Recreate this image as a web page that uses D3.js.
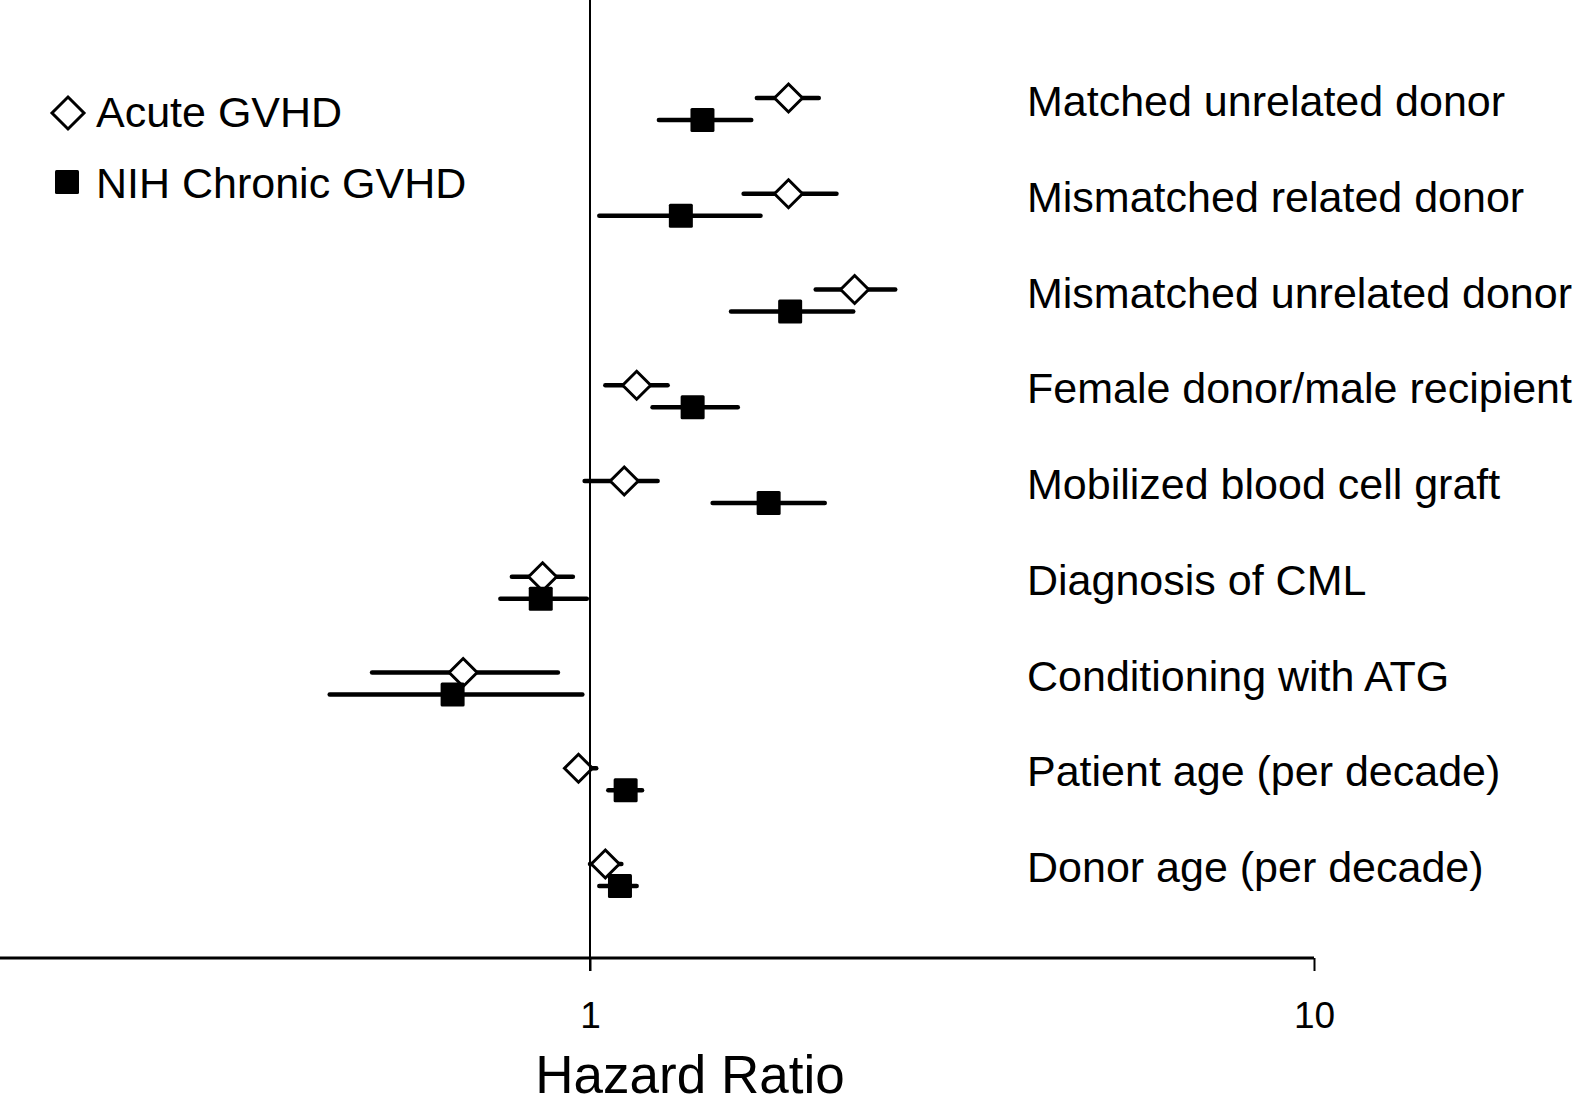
<!DOCTYPE html>
<html lang="en">
<head>
<meta charset="utf-8">
<title>Hazard ratios for acute and chronic GVHD</title>
<script src="https://d3js.org/d3.v7.min.js"></script>
<style>
  body { margin: 0; background: #fff; }
  svg text { font-family: "Liberation Sans", Arial, sans-serif; fill: #000; }
</style>
</head>
<body>
<div id="chart"></div>
<script>
// Data
var categories = ["Matched unrelated donor", "Mismatched related donor", "Mismatched unrelated donor",
  "Female donor/male recipient", "Mobilized blood cell graft", "Diagnosis of CML",
  "Conditioning with ATG", "Patient age (per decade)", "Donor age (per decade)"];
var acuteHR = [1.88, 1.88, 2.32, 1.16, 1.115, 0.86, 0.668, 0.964, 1.05];
var acuteLo = [1.70, 1.63, 2.05, 1.05, 0.983, 0.78, 0.50, 0.94, 1.0];
var acuteHi = [2.07, 2.19, 2.64, 1.28, 1.24, 0.947, 0.903, 1.02, 1.105];
var chronicHR = [1.43, 1.335, 1.89, 1.386, 1.765, 0.855, 0.646, 1.12, 1.10];
var chronicLo = [1.245, 1.03, 1.566, 1.22, 1.477, 0.752, 0.437, 1.06, 1.03];
var chronicHi = [1.67, 1.72, 2.31, 1.60, 2.11, 0.99, 0.976, 1.18, 1.16];
var tickValues = [1, 10];
var seriesNames = ["Acute GVHD", "NIH Chronic GVHD"];

var w = 1574, h = 1106;
var axisY = 958;

var svg = d3.select("#chart").append("svg")
  .attr("width", w).attr("height", h);

var x = d3.scaleLog().domain([1, 10]).range([590, 1314]);
var y = d3.scalePoint().domain(categories).range([98, 864]);
var offset = 22;

var acute = categories.map(function(c, i) { return {cat: c, hr: acuteHR[i], lo: acuteLo[i], hi: acuteHi[i]}; });
var chronic = categories.map(function(c, i) { return {cat: c, hr: chronicHR[i], lo: chronicLo[i], hi: chronicHi[i]}; });

// axis baseline
svg.append("line")
  .attr("x1", 0).attr("x2", x(10))
  .attr("y1", axisY).attr("y2", axisY)
  .attr("stroke", "#000").attr("stroke-width", 3);

var axis = svg.append("g")
  .attr("transform", "translate(0," + axisY + ")")
  .call(d3.axisBottom(x).tickValues(tickValues).tickSize(13).tickSizeOuter(0).tickFormat(d3.format("d")));
axis.select(".domain").remove();
axis.selectAll(".tick line").attr("stroke", "#000").attr("stroke-width", 2);
axis.selectAll(".tick text")
  .attr("y", 70).attr("dy", 0)
  .style("font-size", "37px")
  .style("font-family", "'Liberation Sans', Arial, sans-serif");

svg.append("text")
  .attr("x", 690).attr("y", 1093)
  .attr("text-anchor", "middle")
  .style("font-size", "53px")
  .text("Hazard Ratio");

// acute: CI lines + diamonds
svg.selectAll(".ci-acute").data(acute).enter().append("line")
  .attr("x1", function(d) { return x(d.lo); })
  .attr("x2", function(d) { return x(d.hi); })
  .attr("y1", function(d) { return y(d.cat); })
  .attr("y2", function(d) { return y(d.cat); })
  .attr("stroke", "#000").attr("stroke-width", 4.5).attr("stroke-linecap", "round");

var dia = 14;
svg.selectAll(".pt-acute").data(acute).enter().append("path")
  .attr("d", function(d) {
    var cx = x(d.hr), cy = y(d.cat);
    return "M" + cx + "," + (cy - dia) + "L" + (cx + dia) + "," + cy + "L" + cx + "," + (cy + dia) + "L" + (cx - dia) + "," + cy + "Z";
  })
  .attr("fill", "#fff").attr("stroke", "#000").attr("stroke-width", 3);

// chronic: CI lines + squares
svg.selectAll(".ci-chronic").data(chronic).enter().append("line")
  .attr("x1", function(d) { return x(d.lo); })
  .attr("x2", function(d) { return x(d.hi); })
  .attr("y1", function(d) { return y(d.cat) + offset; })
  .attr("y2", function(d) { return y(d.cat) + offset; })
  .attr("stroke", "#000").attr("stroke-width", 4.5).attr("stroke-linecap", "round");

var sq = 24;
svg.selectAll(".pt-chronic").data(chronic).enter().append("rect")
  .attr("x", function(d) { return x(d.hr) - sq / 2; })
  .attr("y", function(d) { return y(d.cat) + offset - sq / 2; })
  .attr("width", sq).attr("height", sq).attr("rx", 1.5)
  .attr("fill", "#000");

// reference line at HR = 1
svg.append("line")
  .attr("x1", x(1)).attr("x2", x(1))
  .attr("y1", 0).attr("y2", axisY + 13)
  .attr("stroke", "#000").attr("stroke-width", 2);

// row labels
svg.selectAll(".lbl").data(categories).enter().append("text")
  .attr("x", 1027)
  .attr("y", function(d) { return y(d) + 18; })
  .style("font-size", "43px")
  .text(function(d) { return d; });

// legend
var lg = svg.append("g");
lg.append("path")
  .attr("d", "M68,97L84,113L68,129L52,113Z")
  .attr("fill", "#fff").attr("stroke", "#000").attr("stroke-width", 3);
lg.append("rect")
  .attr("x", 55).attr("y", 170).attr("width", 24).attr("height", 24).attr("rx", 1.5)
  .attr("fill", "#000");
lg.selectAll("text").data(seriesNames).enter().append("text")
  .attr("x", 96)
  .attr("y", function(d, i) { return 127 + i * 71; })
  .style("font-size", "43px")
  .text(function(d) { return d; });
</script>
</body>
</html>
